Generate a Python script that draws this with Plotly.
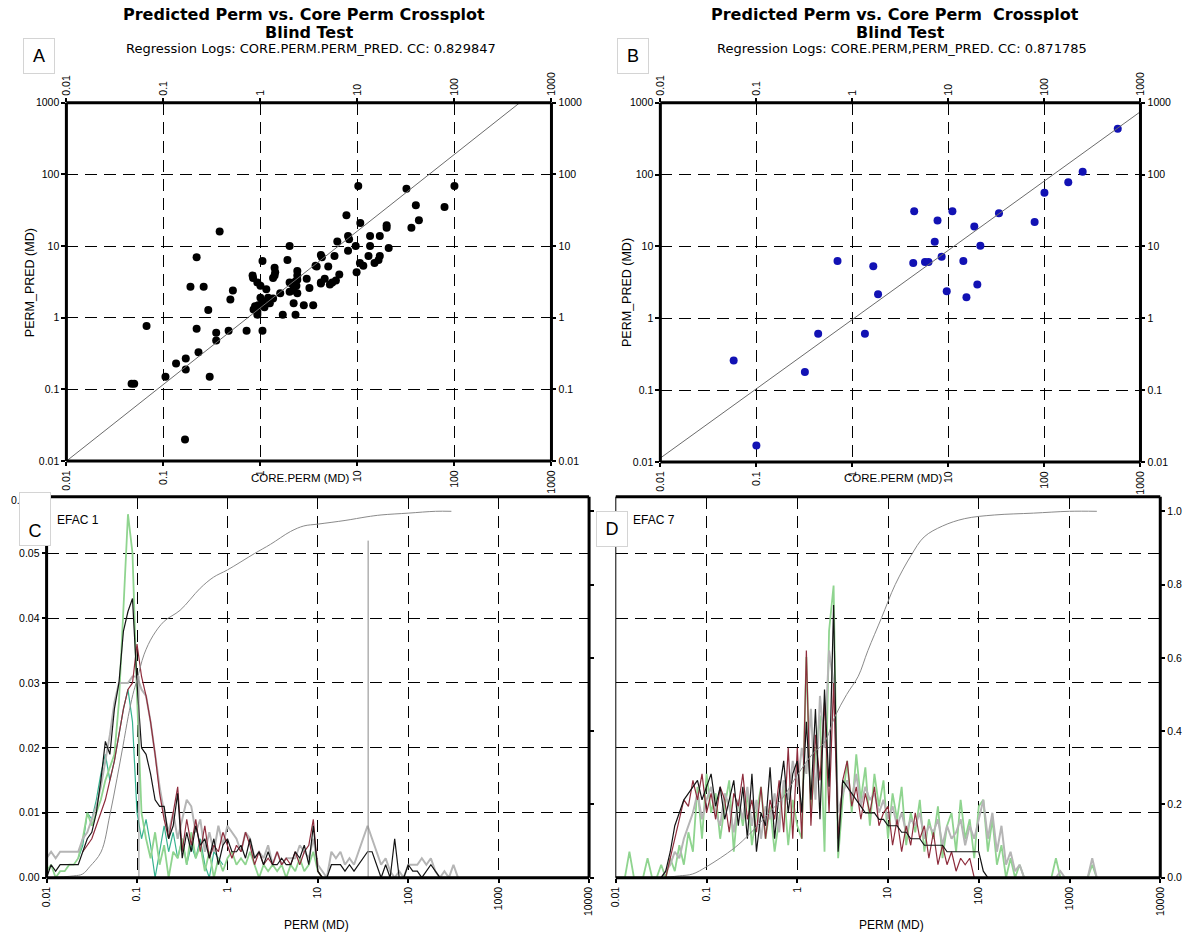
import numpy as np
import plotly.graph_objects as go

W, H = 1192, 938
FONT = "Liberation Sans, Arial, Helvetica, sans-serif"
TITLE_FONT = "DejaVu Sans, Verdana, sans-serif"

# ---------------- Crossplot A (core perm vs predicted perm, mD) ----------------
a_core = [0.047, 0.050, 0.067, 0.105, 0.135, 0.17, 0.17, 0.167, 0.19, 0.26,
          0.22, 0.23, 0.29, 0.30, 0.35, 0.35, 0.47, 0.49, 0.52, 0.72,
          1.05, 0.38, 0.22, 0.93, 0.85, 0.88, 0.95, 0.93, 1.05, 1.2,
          1.25, 1.0, 1.1, 1.35, 0.84, 1.0, 0.93, 1.35, 1.42, 1.4,
          2.0, 2.1, 2.2, 2.3, 2.4, 2.2, 2.4, 2.35, 2.2, 2.3,
          2.8, 3.5, 3.2, 3.8, 4.2, 10.2, 100, 32, 40, 79,
          43, 36, 7.7, 10.7, 20, 20, 13.5, 17, 8, 8.2,
          9.6, 13.5, 21, 6.2, 8, 5.8, 4.2, 4.3, 13, 17,
          16.5, 15, 2.0, 1.9, 3.7, 5.0, 10.6, 11.5, 9.8, 2.4,
          2.4, 1.4, 1.05, 0.83, 2.0, 4.2, 5.5, 3.0, 1.6, 1.15,
          6.5, 1.7, 4.6, 5.2, 6.0]
a_pred = [0.12, 0.12, 0.77, 0.15, 0.23, 0.27, 0.19, 0.02, 2.7, 2.7,
          0.7, 0.33, 1.28, 0.15, 0.48, 0.62, 0.66, 1.8, 2.4, 0.66,
          0.66, 16, 7, 1.1, 1.3, 1.45, 1.5, 1.2, 1.7, 1.9,
          1.6, 1.9, 1.4, 1.85, 3.6, 2.8, 3.1, 3.6, 4.3, 5.0,
          2.3, 3.0, 2.7, 3.2, 3.4, 2.4, 2.2, 2.8, 1.6, 1.1,
          1.5, 1.5, 2.6, 5.2, 3.0, 69, 69, 63, 37, 35,
          23, 18, 27, 21, 19.5, 18, 13.8, 13.8, 13.8, 12.5,
          10, 10, 9.4, 11.6, 8.6, 7.3, 7.5, 7.0, 7.3, 7.3,
          6.4, 5.8, 10, 6.4, 5.3, 5.2, 5.8, 5.3, 4.3, 4.5,
          3.9, 3.9, 6.2, 3.9, 3.1, 3.1, 3.1, 3.5, 2.2, 2.5,
          4.0, 1.1, 3.5, 2.9, 3.3]
a_cc = "0.829847"
a_fit = (1.07, 0.14)      # log10(pred) = slope * log10(core) + intercept

# ---------------- Crossplot B ----------------
b_core = [0.058, 0.1, 0.32, 0.44, 1.35, 1.85, 1.65, 0.7, 580, 250,
          177, 100, 79, 33.6, 18.6, 21.5, 11, 4.4, 7.7, 7.2,
          8.5, 5.7, 6.2, 4.3, 14.3, 9.6, 15.4, 20]
b_pred = [0.26, 0.017, 0.18, 0.61, 0.61, 2.16, 5.3, 6.3, 435, 110,
          78, 56, 22, 29, 19, 10.2, 31, 31, 23, 11.6,
          7.2, 6.1, 6.1, 5.9, 6.3, 2.38, 1.97, 2.97]
b_cc = "0.871785"
b_fit = (0.964, -0.016)

cross_ticks = [0.01, 0.1, 1, 10, 100, 1000]
cross_text = ["0.01", "0.1", "1", "10", "100", "1000"]

# ---------------- Histogram C (EFAC 1), bins every 0.05 log10 decade ----------------
c_logperm = np.round(np.arange(-2.0, 2.6001, 0.05), 2)
c_black = [0.000, 0.002, 0.001, 0.002, 0.002, 0.002, 0.002, 0.002, 0.004, 0.006,
           0.007, 0.010, 0.015, 0.021, 0.019, 0.026, 0.030, 0.038, 0.041, 0.043,
           0.030, 0.020, 0.019, 0.016, 0.012, 0.011, 0.011, 0.006, 0.008, 0.013,
           0.003, 0.007, 0.004, 0.008, 0.005, 0.006, 0.003, 0.006, 0.002, 0.005,
           0.006, 0.004, 0.004, 0.005, 0.003, 0.006, 0.003, 0.004, 0.002, 0.004,
           0.002, 0.002, 0.003, 0.002, 0.002, 0.004, 0.003, 0.005, 0.002, 0.008,
           0.001, 0.000, 0.000, 0.002, 0.002, 0.002, 0.001, 0.002, 0.001, 0.002,
           0.003, 0.004, 0.004, 0.002, 0.000, 0.002, 0.000, 0.006, 0.000, 0.000,
           0.002, 0.001, 0.001, 0.000, 0.001, 0.002, 0.001, 0.000, 0.000, 0.000,
           None, None, None]
c_gray = [0.003, 0.004, 0.003, 0.004, 0.004, 0.004, 0.004, 0.004, 0.006, 0.007,
          0.009, 0.011, 0.014, 0.018, 0.022, 0.027, 0.030, 0.030, 0.030, 0.031,
          0.031, 0.029, 0.028, 0.024, 0.019, 0.014, 0.010, 0.007, 0.010, 0.006,
          0.009, 0.012, 0.011, 0.007, 0.009, 0.004, 0.007, 0.004, 0.008, 0.005,
          0.008, 0.007, 0.006, 0.004, 0.007, 0.006, 0.003, 0.004, 0.003, 0.005,
          0.002, 0.004, 0.002, 0.003, 0.003, 0.003, 0.005, 0.004, 0.003, 0.006,
          0.002, 0.001, 0.000, 0.004, 0.003, 0.004, 0.002, 0.003, 0.002, 0.004,
          0.006, 0.008, 0.006, 0.004, 0.002, 0.003, 0.001, 0.000, 0.001, 0.000,
          0.002, 0.002, 0.002, 0.003, 0.002, 0.003, 0.001, 0.000, 0.001, 0.000,
          0.002, 0.000, None]
c_red = [None, None, None, None, None, None, None, None, 0.004, 0.005,
         0.006, 0.008, 0.010, 0.012, 0.015, 0.018, 0.022, 0.026, 0.029, 0.030,
         0.036, 0.031, 0.028, 0.024, 0.019, 0.013, 0.009, 0.006, 0.010, 0.014,
         0.004, 0.009, 0.005, 0.009, 0.004, 0.008, 0.003, 0.005, 0.004, 0.007,
         0.005, 0.003, 0.005, 0.004, 0.007, 0.005, 0.002, 0.004, 0.002, 0.003,
         0.002, 0.004, 0.002, 0.003, 0.002, 0.004, 0.002, 0.004, 0.005, 0.009,
         0.001, 0.000] + [None] * 31
c_green = [0.001, 0.002, 0.000, 0.001, 0.001, 0.002, 0.002, 0.003, 0.006, 0.010,
           0.008, 0.010, 0.012, 0.015, 0.017, 0.019, 0.027, 0.041, 0.056, 0.050,
           0.028, 0.010, 0.006, 0.003, 0.007, 0.002, 0.005, 0.000, 0.004, 0.003,
           0.006, 0.002, 0.007, 0.003, 0.005, 0.001, 0.004, 0.000, 0.003, 0.001,
           0.003, 0.004, 0.002, 0.003, 0.002, 0.004, 0.002, 0.000, 0.002, 0.001,
           0.002, 0.001, 0.002, 0.000, 0.002, 0.001, 0.003, 0.001, 0.002, 0.004,
           0.001, 0.000] + [None] * 31
c_teal = [None, None, None, None, None, None, None, 0.003, 0.005, 0.010,
          0.009, 0.012, 0.016, 0.019, 0.015, 0.018, 0.022, 0.026, 0.029, 0.024,
          0.010, 0.006, 0.009, 0.005, 0.000, 0.004, 0.008, 0.004, 0.007, 0.003,
          0.006, 0.002, 0.005, 0.003, 0.006, 0.002, 0.000, 0.004, 0.003, 0.002] + [None] * 53
c_cum_perm = [0.01, 0.02, 0.025, 0.03, 0.04, 0.05, 0.06, 0.07, 0.08, 0.09, 0.1, 0.12,
              0.15, 0.2, 0.3, 0.5, 0.7, 1, 2, 3, 5, 7, 10, 20, 35, 50, 100, 200, 300]
c_cum = [0.0, 0.005, 0.01, 0.03, 0.07, 0.17, 0.27, 0.36, 0.44, 0.50, 0.54, 0.61,
         0.66, 0.70, 0.73, 0.79, 0.82, 0.84, 0.885, 0.91, 0.945, 0.96, 0.965, 0.975,
         0.985, 0.99, 0.995, 1.0, 1.0]
# drop lines from the cumulative curve (perm, cumulative fraction)
c_marker_perm = [0.105, 36]
c_marker_frac = [0.55, 0.92]

# ---------------- Histogram D (EFAC 7) ----------------
d_logperm = np.round(np.arange(-2.0, 3.3001, 0.05), 2)
d_black = ([0.000] * 10 +
           [0.000, 0.001, 0.004, 0.008, 0.010, 0.012, 0.013, 0.014, 0.015, 0.012,
            0.014, 0.016, 0.011, 0.014, 0.009, 0.012, 0.015, 0.008, 0.014, 0.006,
            0.016, 0.004, 0.010, 0.008, 0.017, 0.006, 0.013, 0.018, 0.010, 0.016,
            0.018, 0.010, 0.024, 0.012, 0.026, 0.009, 0.029, 0.014, 0.042, 0.004,
            0.015, 0.014, 0.013, 0.012, 0.011, 0.010, 0.010, 0.010, 0.009, 0.009,
            0.008, 0.008, 0.008, 0.007, 0.007, 0.006, 0.006, 0.006, 0.005, 0.005,
            0.005, 0.005, 0.005, 0.004, 0.004, 0.004, 0.004, 0.004, 0.004, 0.004,
            0.004, 0.001, 0.000] + [None] * 24)
d_red = ([None] * 11 +
         [0.000, 0.003, 0.006, 0.009, 0.012, 0.011, 0.015, 0.012, 0.016,
          0.010, 0.013, 0.009, 0.014, 0.012, 0.007, 0.013, 0.011, 0.016, 0.009,
          0.012, 0.007, 0.014, 0.006, 0.012, 0.009, 0.015, 0.007, 0.020, 0.006,
          0.020, 0.006, 0.035, 0.008, 0.022, 0.015, 0.027, 0.010, 0.030, 0.006,
          0.015, 0.018, 0.011, 0.014, 0.009, 0.013, 0.010, 0.014, 0.008, 0.010,
          0.011, 0.005, 0.009, 0.004, 0.008, 0.005, 0.010, 0.006, 0.008, 0.003,
          0.007, 0.002, 0.005, 0.002, 0.004, 0.001, 0.003, 0.002, 0.003, 0.000] + [None] * 27)
d_green = [0.000, 0.000, 0.000, 0.004, 0.000, 0.000, 0.000, 0.003, 0.000, 0.000,
           0.002, 0.000, 0.003, 0.001, 0.005, 0.002, 0.007, 0.004, 0.014, 0.006,
           0.016, 0.010, 0.013, 0.006, 0.011, 0.015, 0.004, 0.012, 0.008, 0.013,
           0.005, 0.010, 0.014, 0.006, 0.011, 0.004, 0.009, 0.014, 0.005, 0.012,
           0.008, 0.006, 0.034, 0.010, 0.019, 0.025, 0.004, 0.038, 0.045, 0.003,
           0.012, 0.018, 0.010, 0.019, 0.012, 0.017, 0.008, 0.016, 0.011, 0.015,
           0.006, 0.013, 0.009, 0.014, 0.005, 0.010, 0.007, 0.012, 0.004, 0.009,
           0.006, 0.011, 0.003, 0.008, 0.010, 0.004, 0.012, 0.006, 0.009, 0.003,
           0.011, 0.012, 0.004, 0.009, 0.002, 0.005, 0.000, 0.003, 0.000, 0.002,
           0.000, 0.000, 0.000, 0.000, 0.000, 0.000, 0.000, 0.003, 0.000, 0.000,
           0.000, 0.000, 0.000, 0.000, 0.000, 0.002, 0.000]
d_gray = [0.000] * 10 + [
          0.000, 0.001, 0.002, 0.004, 0.003, 0.006, 0.008, 0.010, 0.013, 0.009,
          0.012, 0.014, 0.010, 0.008, 0.013, 0.011, 0.007, 0.012, 0.009, 0.014,
          0.008, 0.012, 0.006, 0.011, 0.009, 0.013, 0.007, 0.015, 0.012, 0.018,
          0.014, 0.020, 0.016, 0.026, 0.012, 0.028, 0.020, 0.035, 0.030, 0.010,
          0.013, 0.015, 0.012, 0.016, 0.011, 0.014, 0.012, 0.013, 0.010, 0.012,
          0.009, 0.011, 0.008, 0.010, 0.007, 0.009, 0.008, 0.010, 0.006, 0.008,
          0.007, 0.009, 0.005, 0.008, 0.006, 0.007, 0.009, 0.005, 0.008, 0.006,
          0.009, 0.012, 0.006, 0.010, 0.004, 0.008, 0.002, 0.004, 0.001, 0.002,
          0.000, 0.000, 0.000, 0.000, 0.000, 0.000, 0.000, 0.000, 0.001, 0.000,
          0.000, 0.000, 0.000, 0.000, 0.000, 0.003, 0.000]
d_cum_perm = [0.01, 0.03, 0.05, 0.07, 0.1, 0.2, 0.3, 0.5, 0.7, 1.0, 1.5, 2.0, 2.6,
              3.5, 4.7, 6, 8.5, 12, 18, 25, 40, 70, 150, 400, 1000, 2000]
d_cum = [0.0, 0.0, 0.005, 0.01, 0.03, 0.08, 0.12, 0.18, 0.22, 0.28, 0.34, 0.37, 0.44,
         0.50, 0.55, 0.62, 0.71, 0.80, 0.88, 0.93, 0.96, 0.98, 0.99, 0.995, 1.0, 1.0]

hist_ticks = [0.01, 0.1, 1, 10, 100, 1000, 10000]
hist_text = ["0.01", "0.1", "1", "10", "100", "1000", "10000"]
frac_ticks = [0.0, 0.01, 0.02, 0.03, 0.04, 0.05]
frac_text = ["0.00", "0.01", "0.02", "0.03", "0.04", "0.05"]
cum_ticks = [0.0, 0.2, 0.4, 0.6, 0.8, 1.0]
cum_text = ["0.0", "0.2", "0.4", "0.6", "0.8", "1.0"]

# ---------------- geometry (pixels) ----------------
PANEL = {
    "A": (60, 550, 98, 461),
    "B": (660, 1145, 98, 462),
    "C": (40, 588, 497, 883),
    "D": (615, 1165, 497, 883),
}


def xdom(p):
    l, r, t, b = PANEL[p]
    return [l / W, r / W]


def ydom(p):
    l, r, t, b = PANEL[p]
    return [1 - b / H, 1 - t / H]


GRID_DASH = "12px,7px"
tickfont = dict(family=FONT, size=10.5, color="black")


def axis(domain, rng, typ="linear", vals=None, text=None, grid=False, labels=True,
         side=None, anchor=None, overlaying=None, angle=None):
    d = dict(domain=domain, range=rng, type=typ, showline=False, zeroline=False,
             tickmode="array", tickvals=vals, ticktext=text, showticklabels=labels,
             ticks="outside", ticklen=4, tickwidth=2, tickcolor="black",
             tickfont=tickfont, showgrid=grid, gridcolor="black", gridwidth=1,
             griddash=GRID_DASH, fixedrange=True)
    if side:
        d["side"] = side
    if anchor:
        d["anchor"] = anchor
    if overlaying:
        d["overlaying"] = overlaying
    if angle is not None:
        d["tickangle"] = angle
    return d


fig = go.Figure()

# ---- A
fig.add_trace(go.Scatter(x=a_core, y=a_pred, mode="markers", xaxis="x", yaxis="y",
                         marker=dict(color="black", size=8, symbol="circle"),
                         showlegend=False, hoverinfo="skip"))
fit_x = np.logspace(-2, 3, 50)
fig.add_trace(go.Scatter(x=fit_x, y=10 ** (a_fit[0] * np.log10(fit_x) + a_fit[1]),
                         mode="lines", xaxis="x", yaxis="y",
                         line=dict(color="#6b6b6b", width=1), showlegend=False))
fig.add_trace(go.Scatter(x=[1], y=[1], mode="markers", xaxis="x2", yaxis="y2",
                         marker=dict(opacity=0), showlegend=False, hoverinfo="skip"))

# ---- B
fig.add_trace(go.Scatter(x=b_core, y=b_pred, mode="markers", xaxis="x3", yaxis="y3",
                         marker=dict(color="#1212b4", size=8, symbol="circle"),
                         showlegend=False, hoverinfo="skip"))
fig.add_trace(go.Scatter(x=fit_x, y=10 ** (b_fit[0] * np.log10(fit_x) + b_fit[1]),
                         mode="lines", xaxis="x3", yaxis="y3",
                         line=dict(color="#6b6b6b", width=1), showlegend=False))
fig.add_trace(go.Scatter(x=[1], y=[1], mode="markers", xaxis="x4", yaxis="y4",
                         marker=dict(opacity=0), showlegend=False, hoverinfo="skip"))

# ---- C histograms
c_perm = 10 ** c_logperm
for vals, col, w in [(c_teal, "#35b28f", 1.2), (c_green, "#8fd48f", 1.8),
                     (c_gray, "#b5b5b5", 2.0), (c_red, "#8e2c3c", 1.2),
                     (c_black, "#141414", 1.2)]:
    fig.add_trace(go.Scatter(x=c_perm, y=vals, mode="lines", xaxis="x5", yaxis="y5",
                             line=dict(color=col, width=w), connectgaps=False,
                             showlegend=False, hoverinfo="skip"))
fig.add_trace(go.Scatter(x=c_cum_perm, y=c_cum, mode="lines", xaxis="x5", yaxis="y6",
                         line=dict(color="#8a8a8a", width=1, shape="spline"),
                         showlegend=False, hoverinfo="skip"))
for mp, mf in zip(c_marker_perm, c_marker_frac):
    fig.add_trace(go.Scatter(x=[mp, mp], y=[0, mf], mode="lines", xaxis="x5", yaxis="y6",
                             line=dict(color="#8a8a8a", width=1), showlegend=False,
                             hoverinfo="skip"))

# ---- D histograms
d_perm = 10 ** d_logperm
for vals, col, w in [(d_green, "#8fd48f", 1.8), (d_gray, "#b5b5b5", 2.0),
                     (d_red, "#8e2c3c", 1.2), (d_black, "#141414", 1.2)]:
    fig.add_trace(go.Scatter(x=d_perm, y=vals, mode="lines", xaxis="x6", yaxis="y7",
                             line=dict(color=col, width=w), showlegend=False,
                             hoverinfo="skip"))
fig.add_trace(go.Scatter(x=d_cum_perm, y=d_cum, mode="lines", xaxis="x6", yaxis="y8",
                         line=dict(color="#8a8a8a", width=1, shape="spline"),
                         showlegend=False, hoverinfo="skip"))

LOG5 = [-2, 3]
LOG6 = [-2, 4]
FRAC = [0, 0.0587]
CUM = [0, 1.04]

fig.update_layout(
    width=W, height=H, autosize=False,
    margin=dict(l=0, r=0, t=0, b=0),
    paper_bgcolor="white", plot_bgcolor="rgba(0,0,0,0)",
    font=dict(family=FONT, color="black"),
    xaxis=axis(xdom("A"), LOG5, "log", cross_ticks, cross_text, grid=True,
               anchor="y", angle=-90),
    yaxis=axis(ydom("A"), LOG5, "log", cross_ticks, cross_text, grid=True, anchor="x"),
    xaxis2=axis(xdom("A"), LOG5, "log", cross_ticks, cross_text, side="top",
                anchor="y", overlaying="x", angle=-90),
    yaxis2=axis(ydom("A"), LOG5, "log", cross_ticks, cross_text, side="right",
                anchor="x", overlaying="y"),
    xaxis3=axis(xdom("B"), LOG5, "log", cross_ticks, cross_text, grid=True,
                anchor="y3", angle=-90),
    yaxis3=axis(ydom("B"), LOG5, "log", cross_ticks, cross_text, grid=True, anchor="x3"),
    xaxis4=axis(xdom("B"), LOG5, "log", cross_ticks, cross_text, side="top",
                anchor="y3", overlaying="x3", angle=-90),
    yaxis4=axis(ydom("B"), LOG5, "log", cross_ticks, cross_text, side="right",
                anchor="x3", overlaying="y3"),
    xaxis5=axis(xdom("C"), LOG6, "log", hist_ticks, hist_text, grid=True,
                anchor="y5", angle=-90),
    yaxis5=axis(ydom("C"), FRAC, "linear", frac_ticks, frac_text, grid=True, anchor="x5"),
    yaxis6=axis(ydom("C"), CUM, "linear", cum_ticks, cum_text, labels=False,
                side="right", anchor="x5", overlaying="y5"),
    xaxis6=axis(xdom("D"), LOG6, "log", hist_ticks, hist_text, grid=True,
                anchor="y7", angle=-90),
    yaxis7=axis(ydom("D"), FRAC, "linear", frac_ticks, frac_text, grid=True,
                labels=False, anchor="x6"),
    yaxis8=axis(ydom("D"), CUM, "linear", cum_ticks, cum_text, side="right",
                anchor="x6", overlaying="y7"),
)
fig.layout.yaxis7.ticks = ""

# ---- panel frames
shapes = []


def frame_side(x0, y0, x1, y1, w):
    shapes.append(dict(type="line", xref="paper", yref="paper",
                       x0=x0 / W, x1=x1 / W, y0=1 - y0 / H, y1=1 - y1 / H,
                       line=dict(color="black", width=w), layer="above"))


for p in "ABC":
    l, r, t, b = PANEL[p]
    frame_side(l, t, r, t, 3)
    frame_side(l, b, r, b, 3)
    frame_side(l, t, l, b, 3)
    frame_side(r, t, r, b, 3)
l, r, t, b = PANEL["D"]
frame_side(l, t, r, t, 3)
frame_side(l, b, r, b, 3)
frame_side(l, t, l, b, 1)
frame_side(r, t, r, b, 3)
fig.update_layout(shapes=shapes)

# ---- text
ann = []


def text(x, y, s, size=11, bold=False, angle=0, xanchor="center", family=FONT, **kw):
    if bold:
        s = "<b>" + s + "</b>"
    ann.append(dict(x=x / W, y=1 - y / H, xref="paper", yref="paper", text=s,
                    showarrow=False, textangle=angle, xanchor=xanchor,
                    yanchor="middle", font=dict(family=family, size=size, color="black"),
                    **kw))


for cx, title, reg in [(300, "Predicted Perm vs. Core Perm Crossplot",
                        "Regression Logs: CORE.PERM.PERM_PRED. CC: " + a_cc),
                       (897, "Predicted Perm vs. Core Perm  Crossplot",
                        "Regression Logs: CORE.PERM,PERM_PRED. CC: " + b_cc)]:
    text(cx, 9, title, 16, bold=True, family=TITLE_FONT, height=17)
    text(cx + 6, 26.5, "Blind Test", 16, bold=True, family=TITLE_FONT, height=17)
    text(cx + 7, 43.5, reg, 13, family=TITLE_FONT, height=15)

text(24, 280, "PERM_PRED (MD)", 12.5, angle=-90)
text(296, 478, "CORE.PERM (MD)", 11.5)
text(627, 290, "PERM_PRED (MD)", 12.5, angle=-90)
text(896, 478, "CORE.PERM (MD)", 11.5)
text(313, 931, "PERM (MD)", 12)
text(893, 931, "PERM (MD)", 12)
text(48, 521, "EFAC 1", 12, xanchor="left")
text(630, 521, "EFAC 7", 12, xanchor="left")

# top tick of the C fraction axis, mostly hidden under the panel tag
text(27, 500, "0.06", 10.5, xanchor="right")

for lab, cx, cy, hh, va in [("A", 32, 51, 26, "middle"), ("B", 632, 51, 26, "middle"),
                            ("C", 28, 520, 44, "bottom"), ("D", 611, 530, 26, "middle")]:
    text(cx, cy, lab, 18, bgcolor="white", bordercolor="#d4d4d4", borderwidth=1,
         borderpad=4, width=22, height=hh, valign=va)

fig.update_layout(annotations=ann)
fig.write_html("out.html")
